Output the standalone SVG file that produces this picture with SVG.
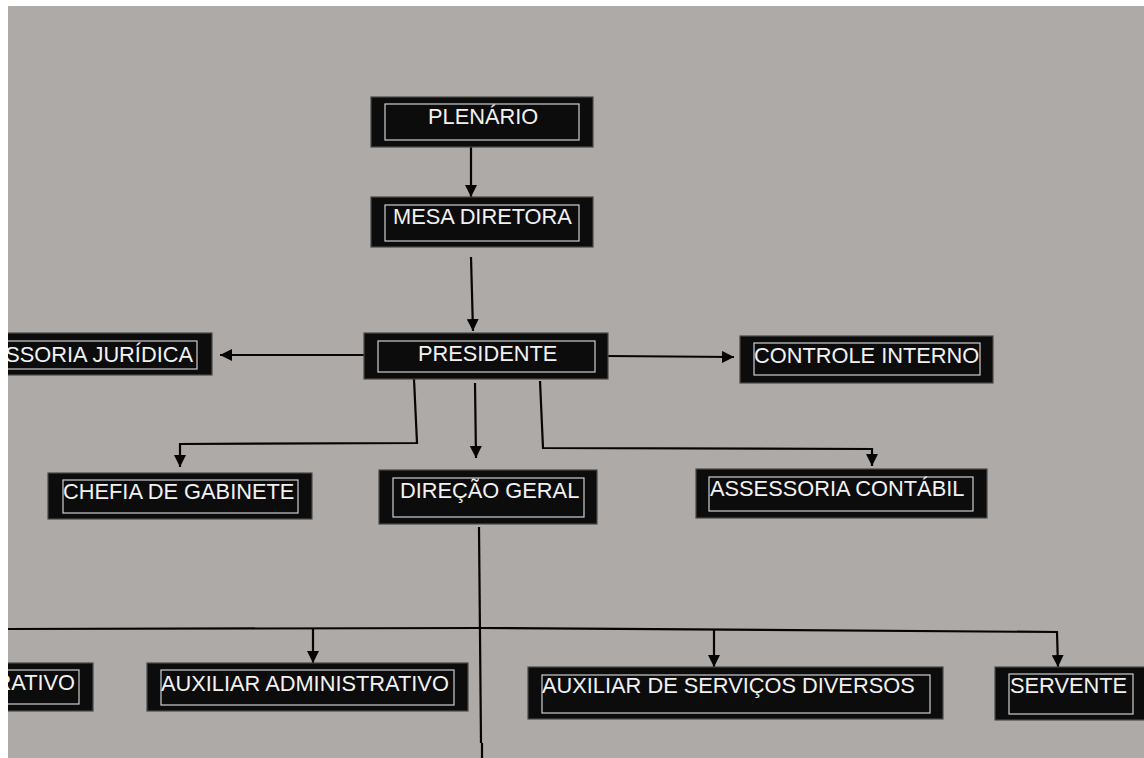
<svg xmlns="http://www.w3.org/2000/svg" width="1144" height="758" viewBox="0 0 1144 758">
<style>
.box{fill:#0c0c0c;stroke:#4a4a4a;stroke-width:1.2}
.inner{fill:none;stroke:#cfcfcf;stroke-width:1.2}
.lbl{font-family:"Liberation Sans",Arial,sans-serif;font-size:21.8px;fill:#f2f2f2}
.con{fill:none;stroke:#050505;stroke-width:2.2}
</style>
<defs>
<marker id="arr" markerUnits="userSpaceOnUse" markerWidth="12" markerHeight="12" refX="10" refY="5" orient="auto" viewBox="0 0 10 10">
<path d="M0,0 L10,5 L0,10 z" fill="#050505"/>
</marker>
<clipPath id="page"><rect x="8" y="6" width="1136" height="752"/></clipPath>
</defs>
<rect x="0" y="0" width="1144" height="758" fill="#ffffff"/>
<rect x="8" y="6" width="1136" height="752" fill="#aeaaa8"/>
<g clip-path="url(#page)">
<g id="connectors">
<path class="con" d="M471,147 L471,197" marker-end="url(#arr)"/>
<path class="con" d="M471,257 L473,331" marker-end="url(#arr)"/>
<path class="con" d="M364,355 L220,355" marker-end="url(#arr)"/>
<path class="con" d="M608,356 L734,357" marker-end="url(#arr)"/>
<path class="con" d="M414,379 L417,443 L180,444 L180,467" marker-end="url(#arr)"/>
<path class="con" d="M475,383 L476,458" marker-end="url(#arr)"/>
<path class="con" d="M540,381 L543,448 L872,449 L872,466" marker-end="url(#arr)"/>
<path class="con" d="M479,527 L481,743"/>
<path class="con" d="M482,743 L482,760"/>
<path class="con" d="M8,629 L480,628 L1057,632 L1058,667" marker-end="url(#arr)"/>
<path class="con" d="M313,629 L313,663" marker-end="url(#arr)"/>
<path class="con" d="M714,630 L714,667" marker-end="url(#arr)"/>
</g>
<g id="plenario">
<rect class="box" x="371" y="97" width="222" height="50"/>
<rect class="inner" x="385" y="104" width="194" height="36"/>
<text class="lbl" x="428" y="124">PLENÁRIO</text>
</g>
<g id="mesa-diretora">
<rect class="box" x="371" y="197" width="222" height="50"/>
<rect class="inner" x="385" y="205" width="194" height="36"/>
<text class="lbl" x="393" y="224">MESA DIRETORA</text>
</g>
<g id="presidente">
<rect class="box" x="364" y="333" width="244" height="46"/>
<rect class="inner" x="378" y="341" width="217" height="31"/>
<text class="lbl" x="418" y="361">PRESIDENTE</text>
</g>
<g id="assessoria-juridica">
<rect class="box" x="-50" y="333" width="262" height="42"/>
<rect class="inner" x="-40" y="341" width="237" height="28"/>
<text class="lbl" x="193" y="362" text-anchor="end">SSORIA JURÍDICA</text>
</g>
<g id="controle-interno">
<rect class="box" x="740" y="336" width="253" height="47"/>
<rect class="inner" x="754" y="343" width="226" height="32"/>
<text class="lbl" x="754" y="363">CONTROLE INTERNO</text>
</g>
<g id="chefia-gabinete">
<rect class="box" x="48" y="473" width="264" height="46"/>
<rect class="inner" x="63" y="480" width="235" height="33"/>
<text class="lbl" x="63" y="499">CHEFIA DE GABINETE</text>
</g>
<g id="direcao-geral">
<rect class="box" x="379" y="470" width="218" height="54"/>
<rect class="inner" x="393" y="478" width="191" height="39"/>
<text class="lbl" x="400" y="498">DIREÇÃO GERAL</text>
</g>
<g id="assessoria-contabil">
<rect class="box" x="696" y="469" width="291" height="49"/>
<rect class="inner" x="709" y="477" width="264" height="34"/>
<text class="lbl" x="710" y="496">ASSESSORIA CONTÁBIL</text>
</g>
<g id="administrativo">
<rect class="box" x="-50" y="663" width="143" height="48"/>
<rect class="inner" x="-40" y="670" width="119" height="34"/>
<text class="lbl" x="75" y="690" text-anchor="end">RATIVO</text>
</g>
<g id="auxiliar-administrativo">
<rect class="box" x="147" y="663" width="321" height="48"/>
<rect class="inner" x="161" y="670" width="293" height="35"/>
<text class="lbl" x="161" y="691">AUXILIAR ADMINISTRATIVO</text>
</g>
<g id="auxiliar-servicos">
<rect class="box" x="528" y="667" width="415" height="52"/>
<rect class="inner" x="542" y="675" width="388" height="38"/>
<text class="lbl" x="542" y="693">AUXILIAR DE SERVIÇOS DIVERSOS</text>
</g>
<g id="servente">
<rect class="box" x="995" y="667" width="160" height="53"/>
<rect class="inner" x="1009" y="674" width="124" height="40"/>
<text class="lbl" x="1010" y="693">SERVENTE</text>
</g>
</g>
</svg>
